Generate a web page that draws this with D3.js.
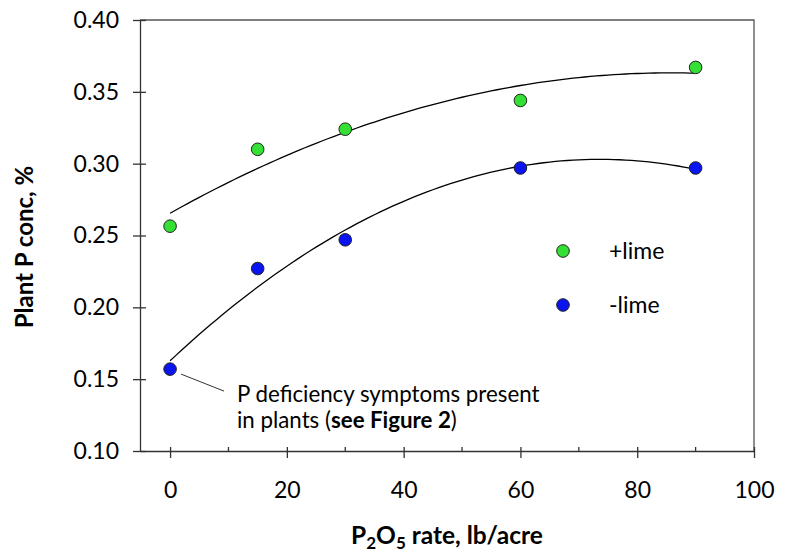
<!DOCTYPE html>
<html>
<head>
<meta charset="utf-8">
<script src="https://cdn.jsdelivr.net/npm/d3@7"></script>
<style>
  html, body { margin: 0; padding: 0; background: #fff; overflow: hidden; }
  svg { display: block; }
  text { font-family: Lato, "Noto Sans", sans-serif; fill: #000; }
</style>
</head>
<body>
<script>
// P2O5 rates (lb/acre)
const rates = [0, 15, 30, 60, 90];
// plant P concentration, %
const withLime = [0.2565, 0.310, 0.324, 0.344, 0.367];
const withoutLime = [0.157, 0.227, 0.247, 0.297, 0.297];
const xTicks = [0, 20, 40, 60, 80, 100];
const xMinorTicks = [10, 30, 50, 70, 90];
const yTicks = [0.10, 0.15, 0.20, 0.25, 0.30, 0.35, 0.40];

const width = 792, height = 556;
const margin = { top: 20, right: 38, bottom: 105, left: 140 };
const innerWidth = width - margin.left - margin.right;
const innerHeight = height - margin.top - margin.bottom;

const svg = d3.select("body").append("svg")
    .attr("width", width)
    .attr("height", height);

const g = svg.append("g")
    .attr("transform", `translate(${margin.left},${margin.top})`);

const x = d3.scaleLinear().domain([-5.15, 100]).range([0, innerWidth]);
const y = d3.scaleLinear().domain([0.10, 0.40]).range([innerHeight, 0]);

// frame (top and right)
g.append("path")
    .attr("d", `M0,0H${innerWidth}V${innerHeight}`)
    .attr("fill", "none")
    .attr("stroke", "#555")
    .attr("stroke-width", 1.3);

// y axis
const yAxis = g.append("g")
    .call(d3.axisLeft(y).tickValues(yTicks).tickFormat(d3.format(".2f"))
        .tickSize(7).tickPadding(14).tickSizeOuter(0));
yAxis.selectAll(".tick line").attr("x1", 6);
yAxis.selectAll("text").style("font-size", "23px");
yAxis.selectAll("path, line").attr("stroke", "#333").attr("stroke-width", 1.3);

// x axis
const xAxis = g.append("g")
    .attr("transform", `translate(0,${innerHeight})`)
    .call(d3.axisBottom(x).tickValues(xTicks).tickFormat(d3.format("d"))
        .tickSize(7).tickPadding(24).tickSizeOuter(0));
xAxis.selectAll(".tick line").attr("y1", -4);
xAxis.selectAll("text").style("font-size", "23px");
xAxis.selectAll("path, line").attr("stroke", "#333").attr("stroke-width", 1.3);

// minor ticks on x axis
g.append("g").selectAll("line")
    .data(xMinorTicks)
    .enter().append("line")
    .attr("x1", d => x(d)).attr("x2", d => x(d))
    .attr("y1", innerHeight - 4).attr("y2", innerHeight)
    .attr("stroke", "#333").attr("stroke-width", 1.3);

// quadratic least squares trend (like Excel polynomial trendline)
function quadFit(xs, ys) {
    const n = xs.length;
    let s = [0, 0, 0, 0, 0], t = [0, 0, 0];
    for (let i = 0; i < n; i++) {
        for (let k = 0; k < 5; k++) s[k] += Math.pow(xs[i], k);
        for (let k = 0; k < 3; k++) t[k] += ys[i] * Math.pow(xs[i], k);
    }
    const A = [[s[0], s[1], s[2], t[0]], [s[1], s[2], s[3], t[1]], [s[2], s[3], s[4], t[2]]];
    for (let i = 0; i < 3; i++) {
        for (let j = i + 1; j < 3; j++) {
            const f = A[j][i] / A[i][i];
            for (let k = i; k < 4; k++) A[j][k] -= f * A[i][k];
        }
    }
    const c = [0, 0, 0];
    for (let i = 2; i >= 0; i--) {
        let v = A[i][3];
        for (let k = i + 1; k < 3; k++) v -= A[i][k] * c[k];
        c[i] = v / A[i][i];
    }
    return v => c[0] + c[1] * v + c[2] * v * v;
}

const line = d3.line().x(d => x(d[0])).y(d => y(d[1])).curve(d3.curveLinear);

[withLime, withoutLime].forEach(vals => {
    const f = quadFit(rates, vals);
    const pts = d3.range(0, 90.01, 1).map(v => [v, f(v)]);
    g.append("path")
        .datum(pts)
        .attr("d", line)
        .attr("fill", "none")
        .attr("stroke", "#000")
        .attr("stroke-width", 1.3);
});

// points
const series = [
    { name: "+lime", values: withLime, color: "#33e033" },
    { name: "-lime", values: withoutLime, color: "#0a14ee" }
];
series.forEach(s => {
    g.append("g").selectAll("circle")
        .data(rates.map((r, i) => [r, s.values[i]]))
        .enter().append("circle")
        .attr("cx", d => x(d[0]))
        .attr("cy", d => y(d[1]))
        .attr("r", 6.3)
        .attr("fill", s.color)
        .attr("stroke", "#222")
        .attr("stroke-width", 1);
});

// legend
const legend = g.append("g").attr("transform", "translate(423,231)");
series.forEach((s, i) => {
    legend.append("circle")
        .attr("cx", 0).attr("cy", i * 54)
        .attr("r", 6.3)
        .attr("fill", s.color)
        .attr("stroke", "#222");
    legend.append("text")
        .attr("x", 46).attr("y", i * 54 + 8)
        .style("font-size", "23px")
        .text(s.name);
});

// annotation for the 0 rate, -lime point
g.append("line")
    .attr("x1", x(0) + 11).attr("y1", y(withoutLime[0]) + 5)
    .attr("x2", x(0) + 54).attr("y2", y(withoutLime[0]) + 22)
    .attr("stroke", "#333").attr("stroke-width", 1);
const note = g.append("text")
    .attr("x", 97).attr("y", 382)
    .style("font-size", "22.3px");
note.append("tspan").text("P deficiency symptoms present");
const note2 = g.append("text")
    .attr("x", 97).attr("y", 408)
    .style("font-size", "22.3px");
note2.append("tspan").text("in plants (");
note2.append("tspan").style("font-weight", "bold").text("see Figure 2");
note2.append("tspan").text(")");

// axis titles
const xTitle = svg.append("text")
    .attr("x", 447).attr("y", 544)
    .attr("text-anchor", "middle")
    .style("font-size", "24.5px").style("font-weight", "bold");
xTitle.append("tspan").text("P");
xTitle.append("tspan").attr("dy", 5).style("font-size", "17px").text("2");
xTitle.append("tspan").attr("dy", -5).text("O");
xTitle.append("tspan").attr("dy", 5).style("font-size", "17px").text("5");
xTitle.append("tspan").attr("dy", -5).text(" rate, lb/acre");

svg.append("text")
    .attr("transform", "translate(33,247) rotate(-90)")
    .attr("text-anchor", "middle")
    .style("font-size", "24px").style("font-weight", "bold")
    .text("Plant P conc, %");
</script>
</body>
</html>
